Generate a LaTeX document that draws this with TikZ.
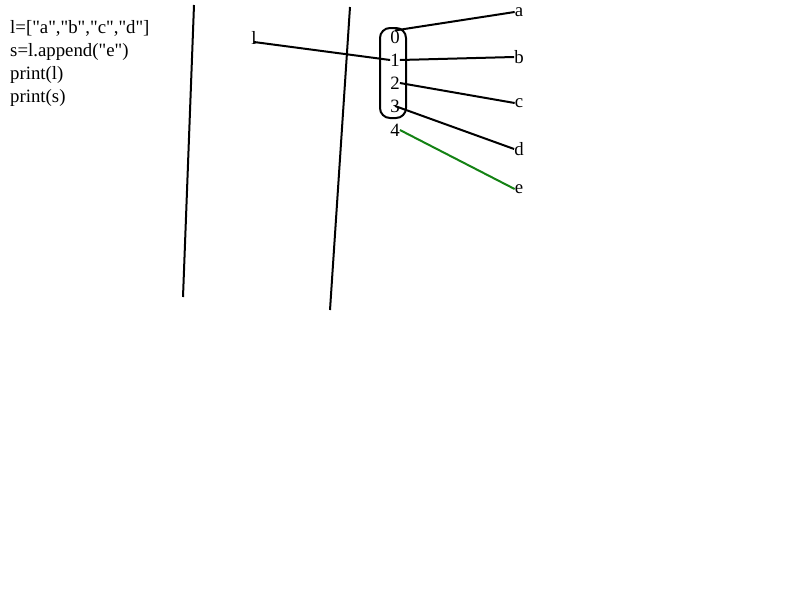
\documentclass[tikz,border=0pt]{standalone}
\usepackage{fontspec}
\setmainfont{Liberation Serif}[Ligatures=TeXOff]
\definecolor{lgreen}{RGB}{20,130,20}
\begin{document}
\begin{tikzpicture}[x=1pt,y=-1pt,
  txt/.style={inner sep=0pt,font=\fontsize{18.8}{22}\selectfont},
  wire/.style={line width=2pt,black},
  gwire/.style={line width=2pt,lgreen}]
\useasboundingbox (0,0) rectangle (800,600);
% code text
\node[txt,anchor=west] (c1) at (10,28) {l=["a","b","c","d"]};
\node[txt,anchor=west] (c2) at (10,52) {s=l.append("e")};
\node[txt,anchor=west] (c3) at (10,75) {print(l)};
\node[txt,anchor=west] (c4) at (10,98) {print(s)};
% vertical lines
\draw[wire] (194,5) -- (183,297);
\draw[wire] (350,7) -- (330,310);
% variable l
\node[txt] (lv) at (254,38) {l};
% indices
\node[txt] (d0) at (395,37) {0};
\node[txt] (d1) at (395,60) {1};
\node[txt] (d2) at (395,83) {2};
\node[txt] (d3) at (395,106) {3};
\node[txt] (d4) at (395,130) {4};
\draw[wire,rounded corners=10pt] (380,28) rectangle (406,118);
% values
\node[txt] (va) at (519,12) {a};
\node[txt] (vb) at (519,57) {b};
\node[txt] (vc) at (519,103) {c};
\node[txt] (vd) at (519,149) {d};
\node[txt] (ve) at (519,189) {e};
% connectors
\coordinate (lstart) at (254,42);
\draw[wire] (lstart) -- (d1.west);
\draw[wire] (d0.north) -- (va.west);
\draw[wire] (d1.east) -- (vb.west);
\draw[wire] (d2.east) -- (vc.west);
\draw[wire] (d3.center) -- (vd.west);
\draw[gwire] (d4.east) -- (ve.west);
\end{tikzpicture}
\end{document}
